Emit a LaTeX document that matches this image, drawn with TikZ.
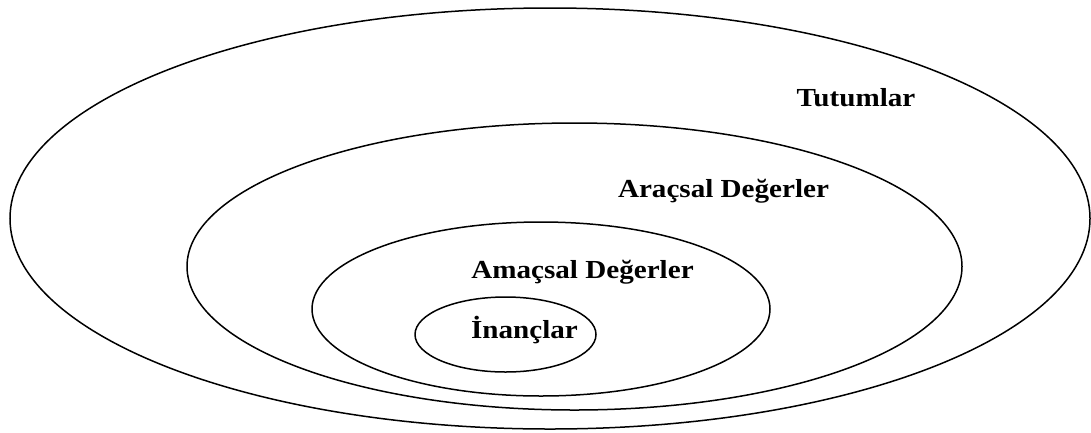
\documentclass[tikz,border=0pt]{standalone}
\usepackage{fontspec}
\newfontfamily\lblfont[FakeStretch=1.12]{Liberation Serif}
\usetikzlibrary{shapes.geometric}
\tikzset{
  ring/.style={ellipse, draw=black, line width=1.5pt, inner sep=0pt},
  lbl/.style={font=\lblfont\bfseries\fontsize{26}{30}\selectfont, anchor=base, inner sep=0pt},
}
\begin{document}
\begin{tikzpicture}[x=1pt, y=-1pt]
  \useasboundingbox (0,0) rectangle (1091,432);
  % rings
  \node[ring, minimum width=1080pt, minimum height=421pt] (tutum) at (550,218.5) {};
  \node[ring, minimum width=775pt, minimum height=287pt] (aracsal) at (574.5,266.5) {};
  \node[ring, minimum width=458pt, minimum height=174pt] (amacsal) at (541,309) {};
  \node[ring, minimum width=181pt, minimum height=75pt] (inanc) at (505.5,334.5) {};
  % labels
  \node[lbl] (tutumtxt) at (856,106) {Tutumlar};
  \node[lbl] (aracsaltxt) at (723.5,197) {Araçsal Değerler};
  \node[lbl] (amacsaltxt) at (582.5,278) {Amaçsal Değerler};
  \node[lbl] (inanctxt) at (524.5,338) {İnançlar};
\end{tikzpicture}
\end{document}
